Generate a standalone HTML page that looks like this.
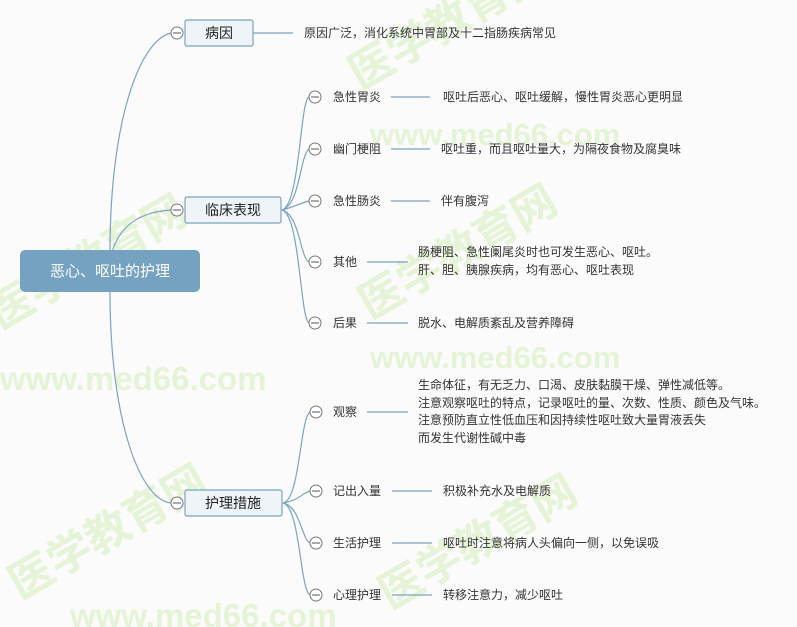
<!DOCTYPE html>
<html><head><meta charset="utf-8"><style>
html,body{margin:0;padding:0;background:#fbfbfb;}
svg{display:block;font-family:"Liberation Sans","Noto Sans CJK SC",sans-serif;}
.t{font-size:12px;fill:#333;}
.m{font-size:14px;fill:#222;}
.wm{fill:#dcefc6;font-weight:bold;opacity:.7;}
</style></head><body>
<svg width="797" height="627" viewBox="0 0 797 627" xmlns="http://www.w3.org/2000/svg">
<g class="wm">
<text x="370" y="145" font-size="31">www.med66.com</text>
<text x="370" y="368" font-size="31">www.med66.com</text>
<text x="0" y="390" font-size="33">www.med66.com</text>
<text x="70" y="627" font-size="33">www.med66.com</text>
<text transform="translate(0,330) rotate(-30)" font-size="44">医学教育网</text>
<text transform="translate(370,320) rotate(-30)" font-size="44">医学教育网</text>
<text transform="translate(20,600) rotate(-30)" font-size="44">医学教育网</text>
<text transform="translate(390,610) rotate(-30)" font-size="44">医学教育网</text>
<text transform="translate(360,90) rotate(-30)" font-size="44">医学教育网</text>
</g>
<g fill="none" stroke="#7aa3c0" stroke-width="1.2">
<path d="M110,252 C110,120 140,40 171,33"/>
<path d="M112,252 C120,225 140,212 171,210"/>
<path d="M110,292 C110,420 140,500 171,503"/>
<path d="M253,33 H293"/>
<path d="M282,210 C300,205 300,100 309,97"/>
<path d="M282,210 C300,205 300,155 309,149"/>
<path d="M282,210 C295,207 300,203 309,201"/>
<path d="M282,210 C300,215 300,258 309,262"/>
<path d="M282,210 C300,215 300,318 309,323"/>
<path d="M391,97 H430 M391,149 H430 M391,201 H430 M367,262 H408 M367,323 H408"/>
<path d="M283,503 C300,500 300,418 310,412"/>
<path d="M283,503 C300,500 302,493 310,491"/>
<path d="M283,503 C300,506 302,540 310,543"/>
<path d="M283,503 C300,506 300,590 310,595"/>
<path d="M367,412 H408 M392,491 H432 M392,543 H432 M392,595 H432"/>
</g>
<rect x="20" y="250" width="180" height="42" rx="5" fill="#76a2c1"/>
<text x="110" y="276" text-anchor="middle" font-size="15" fill="#fff">恶心、呕吐的护理</text>
<g fill="#eef4f7" stroke="#7aa3c0" stroke-width="1.2">
<rect x="185" y="20" width="68" height="26" rx="2"/>
<rect x="185" y="197" width="96" height="26" rx="2"/>
<rect x="185" y="490" width="97" height="26" rx="2"/>
</g>
<text class="m" x="219" y="38" text-anchor="middle">病因</text>
<text class="m" x="233" y="215" text-anchor="middle">临床表现</text>
<text class="m" x="233" y="508" text-anchor="middle">护理措施</text>
<g fill="#fff" stroke="#777" stroke-width="1">
<circle cx="177" cy="33" r="6"/><circle cx="177" cy="210" r="6"/><circle cx="177" cy="503" r="6"/>
<circle cx="315" cy="97" r="6"/><circle cx="315" cy="149" r="6"/><circle cx="315" cy="201" r="6"/><circle cx="315" cy="262" r="6"/><circle cx="315" cy="323" r="6"/>
<circle cx="316" cy="412" r="6"/><circle cx="316" cy="491" r="6"/><circle cx="316" cy="543" r="6"/><circle cx="316" cy="595" r="6"/>
</g>
<g stroke="#555" stroke-width="1">
<path d="M173,33h8M173,210h8M173,503h8M311,97h8M311,149h8M311,201h8M311,262h8M311,323h8M312,412h8M312,491h8M312,543h8M312,595h8"/>
</g>
<g class="t">
<text x="304" y="37">原因广泛，消化系统中胃部及十二指肠疾病常见</text>
<text x="333" y="101">急性胃炎</text><text x="443" y="101">呕吐后恶心、呕吐缓解，慢性胃炎恶心更明显</text>
<text x="333" y="153">幽门梗阻</text><text x="441" y="153">呕吐重，而且呕吐量大，为隔夜食物及腐臭味</text>
<text x="333" y="205">急性肠炎</text><text x="441" y="205">伴有腹泻</text>
<text x="333" y="266">其他</text>
<text x="418" y="256">肠梗阻、急性阑尾炎时也可发生恶心、呕吐。</text>
<text x="418" y="274">肝、胆、胰腺疾病，均有恶心、呕吐表现</text>
<text x="333" y="327">后果</text><text x="418" y="327">脱水、电解质紊乱及营养障碍</text>
<text x="333" y="416">观察</text>
<text x="418" y="389">生命体征，有无乏力、口渴、皮肤黏膜干燥、弹性减低等。</text>
<text x="418" y="407">注意观察呕吐的特点，记录呕吐的量、次数、性质、颜色及气味。</text>
<text x="418" y="424">注意预防直立性低血压和因持续性呕吐致大量胃液丢失</text>
<text x="418" y="442">而发生代谢性碱中毒</text>
<text x="333" y="495">记出入量</text><text x="443" y="495">积极补充水及电解质</text>
<text x="333" y="547">生活护理</text><text x="443" y="547">呕吐时注意将病人头偏向一侧，以免误吸</text>
<text x="333" y="599">心理护理</text><text x="443" y="599">转移注意力，减少呕吐</text>
</g>
</svg>
</body></html>
